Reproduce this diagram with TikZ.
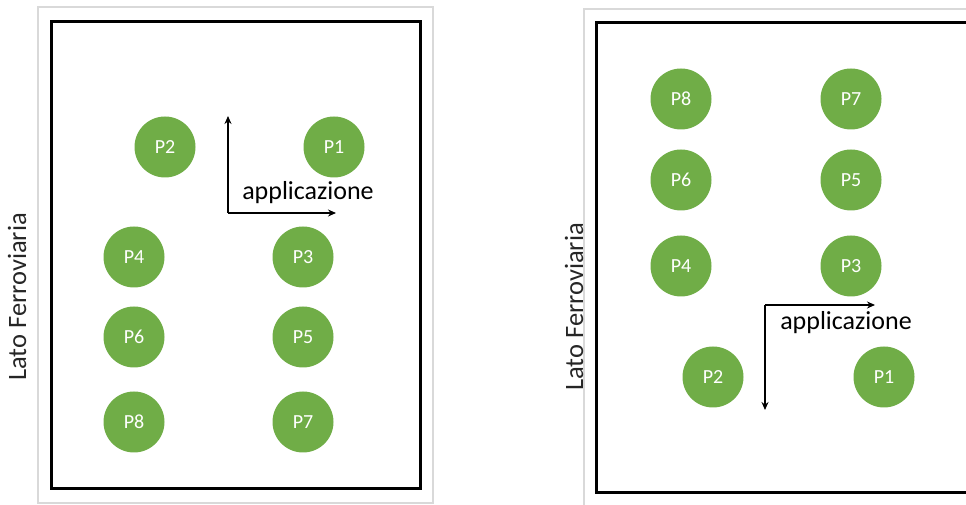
\documentclass[tikz,border=0pt]{standalone}
\usepackage{fontspec}
\setmainfont{Carlito}
\usepackage{xcolor}
\definecolor{pgreen}{HTML}{70AD47}
\definecolor{pale}{HTML}{D9D9D9}
\definecolor{ink}{HTML}{262626}
\usepackage{tikz}
\usetikzlibrary{arrows.meta,positioning}
\tikzset{
  >={Stealth[length=8pt,width=7pt]},
  pole/.style={circle,fill=pgreen,draw=none,minimum size=61pt,inner sep=0pt,text=white,font=\fontsize{20}{20}\selectfont},
  gframe/.style={draw=pale,line width=2.5pt},
  bframe/.style={draw=black,line width=3pt},
  arr/.style={->,draw=black,line width=1.4pt},
  lab/.style={font=\fontsize{26}{26}\selectfont,text=black,inner sep=0pt},
  side/.style={font=\fontsize{26.5}{26.5}\selectfont,text=ink,rotate=90,inner sep=0pt},
}

\begin{document}
\begin{tikzpicture}[x=1pt,y=1pt]
\useasboundingbox (0,0) rectangle (966,505);
\clip (0,0) rectangle (966,505);
\draw[gframe] (38,2) rectangle (433,498);
\draw[bframe] (51,16) rectangle (420,483);
\node[side] (sideL) at (17,208) {Lato Ferroviaria};
\node[pole] (l2) at (165,358) {P2}; \node[pole] (l1) at (334,358) {P1};
\node[pole] (l4) at (134,248) {P4}; \node[pole] (l3) at (303,248) {P3};
\node[pole] (l6) at (134,168) {P6}; \node[pole] (l5) at (303,168) {P5};
\node[pole] (l8) at (134,83) {P8}; \node[pole] (l7) at (303,83) {P7};
\coordinate (lo) at (228,292); \coordinate (lup) at (228,389); \coordinate (lrt) at (336,292);
\draw[arr] (lo)--(lup); \draw[arr] (lo)--(lrt);
\node[lab] (appL) at (308,312) {applicazione};
\draw[gframe] (584,-5) -- (584,496) -- (975,496);
\draw[bframe] (596,12) rectangle (975,482);
\node[side] (sideR) at (574,198) {Lato Ferroviaria};
\node[pole] (r8) at (681,406) {P8}; \node[pole] (r7) at (851,406) {P7};
\node[pole] (r6) at (681,325) {P6}; \node[pole] (r5) at (851,325) {P5};
\node[pole] (r4) at (681,239) {P4}; \node[pole] (r3) at (851,239) {P3};
\node[pole] (r2) at (713,128) {P2}; \node[pole] (r1) at (884,128) {P1};
\coordinate (ro) at (765,200); \coordinate (rrt) at (875,200); \coordinate (rdn) at (765,95);
\draw[arr] (ro)--(rrt); \draw[arr] (ro)--(rdn);
\node[lab] (appR) at (846,182) {applicazione};
\end{tikzpicture}
\end{document}
